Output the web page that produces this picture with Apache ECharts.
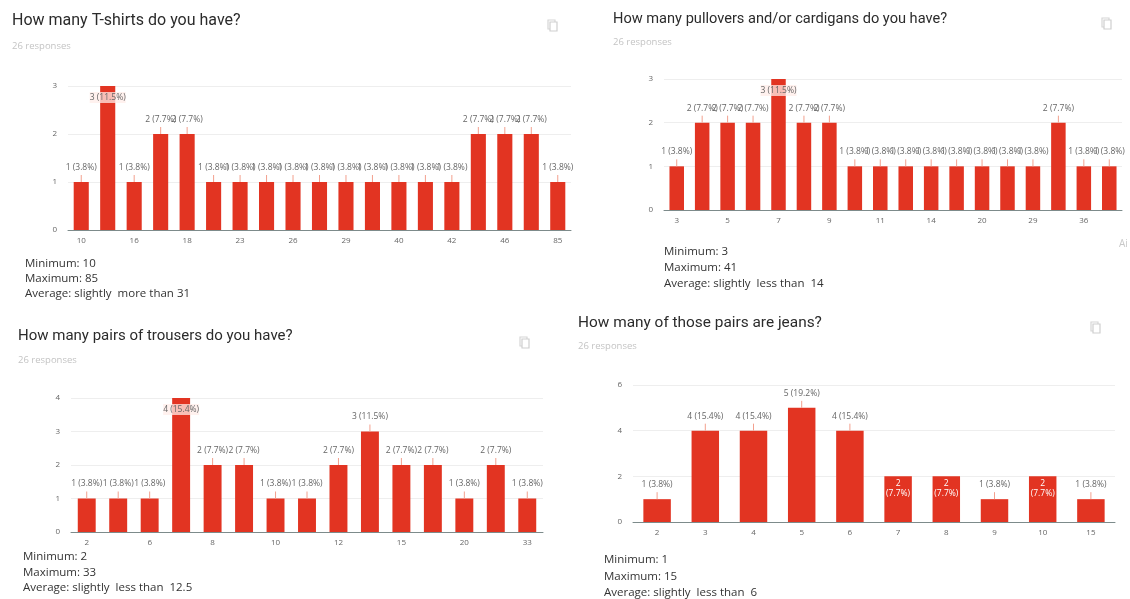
<!DOCTYPE html>
<html><head><meta charset="utf-8">
<script src="https://cdn.jsdelivr.net/npm/echarts@6/dist/echarts.min.js"></script>
<style>html,body{margin:0;padding:0;background:#fff}#c{width:1130px;height:599px}</style>
</head><body><div id="c"></div>
<script>
// ---- data ----
const tshirtTitle = 'How many T-shirts do you have?';
const tshirtCats = ['10','15','16','17','18','20','23','25','26','28','29','30','40','41','42','45','46','50','85'];
const tshirtVals = [1,3,1,2,2,1,1,1,1,1,1,1,1,1,1,2,2,2,1];
const tshirtStats = ['Minimum: 10','Maximum: 85','Average: slightly  more than 31'];

const pulloverTitle = 'How many pullovers and/or cardigans do you have?';
const pulloverCats = ['3','4','5','6','7','8','9','10','11','12','14','15','20','25','29','30','36','41'];
const pulloverVals = [1,2,2,2,3,2,2,1,1,1,1,1,1,1,1,2,1,1];
const pulloverStats = ['Minimum: 3','Maximum: 41','Average: slightly  less than  14'];

const trouserTitle = 'How many pairs of trousers do you have?';
const trouserCats = ['2','5','6','7','8','9','10','11','12','13','15','16','20','25','33'];
const trouserVals = [1,1,1,4,2,2,1,1,2,3,2,2,1,2,1];
const trouserStats = ['Minimum: 2','Maximum: 33','Average: slightly  less than  12.5'];

const jeansTitle = 'How many of those pairs are jeans?';
const jeansCats = ['2','3','4','5','6','7','8','9','10','15'];
const jeansVals = [1,4,4,5,4,2,2,1,2,1];
const jeansStats = ['Minimum: 1','Maximum: 15','Average: slightly  less than  6'];

const responsesText = '26 responses';

// ---- layout ----
const RED = '#e23422';
const panels = [
  {title: tshirtTitle, cats: tshirtCats, vals: tshirtVals, stats: tshirtStats, yMax: 3, yInt: 1, xInt: 1,
   grid: {left: 68, top: 86, width: 503, height: 144}, tx: 12, ty: 23, tf: 16, ry: 47, ix: 548, iy: 20, sx: 25, sy: 264, sd: 15, inside2: false},
  {title: pulloverTitle, cats: pulloverCats, vals: pulloverVals, stats: pulloverStats, yMax: 3, yInt: 1, xInt: 1,
   grid: {left: 664, top: 79, width: 458, height: 131}, tx: 613, ty: 21, tf: 14.6, ry: 43, ix: 1102, iy: 18, sx: 664, sy: 252, sd: 16, inside2: false},
  {title: trouserTitle, cats: trouserCats, vals: trouserVals, stats: trouserStats, yMax: 4, yInt: 1, xInt: 1,
   grid: {left: 71, top: 398, width: 472, height: 134}, tx: 18, ty: 338, tf: 15, ry: 361, ix: 520, iy: 337, sx: 23, sy: 557, sd: 15.5, inside2: false},
  {title: jeansTitle, cats: jeansCats, vals: jeansVals, stats: jeansStats, yMax: 6, yInt: 2, xInt: 0,
   grid: {left: 633, top: 385, width: 482, height: 137}, tx: 578, ty: 325, tf: 15.4, ry: 347, ix: 1091, iy: 322, sx: 604, sy: 560, sd: 16.5, inside2: true}
];

function pct(v, total){ return (v / total * 100).toFixed(1) + '%'; }

const grids = [], xAxes = [], yAxes = [], series = [], graphics = [];
panels.forEach((p, k) => {
  const total = p.vals.reduce((a, b) => a + b, 0);
  grids.push(Object.assign({containLabel: false}, p.grid));
  xAxes.push({type: 'category', gridIndex: k, data: p.cats,
    axisLine: {lineStyle: {color: '#7d8b8b', width: 1}}, axisTick: {show: false},
    axisLabel: {interval: p.xInt, color: '#666', fontSize: 8, margin: 7, fontFamily: 'Open Sans'}});
  yAxes.push({type: 'value', gridIndex: k, min: 0, max: p.yMax, interval: p.yInt,
    axisLine: {show: false}, axisTick: {show: false},
    splitLine: {lineStyle: {color: '#eeeeee', width: 1}},
    axisLabel: {color: '#666', fontSize: 8, margin: 11, fontFamily: 'Open Sans'}});
  const isInside = v => (v === p.yMax) || (p.inside2 && v === 2);
  const data = p.vals.map(v => {
    const item = {value: v};
    if (v === p.yMax) {
      item.label = {position: 'insideTop', distance: 6, color: '#666',
        backgroundColor: 'rgba(255,236,232,0.75)', padding: [1, 0]};
    } else if (p.inside2 && v === 2) {
      item.label = {position: 'insideTop', distance: 2, color: '#fff', lineHeight: 10,
        formatter: v + '\n(' + pct(v, total) + ')'};
    }
    return item;
  });
  series.push({type: 'bar', xAxisIndex: k, yAxisIndex: k, data: data, barCategoryGap: '43%',
    itemStyle: {color: RED},
    label: {show: true, position: 'top', distance: 10, color: '#666', fontSize: 8.5, fontFamily: 'Open Sans',
      formatter: prm => prm.value + ' (' + pct(prm.value, total) + ')'}});
  series.push({type: 'custom', xAxisIndex: k, yAxisIndex: k, silent: true, z: 3,
    data: p.vals.map((v, i) => [i, v]),
    renderItem: (params, api) => {
      const v = api.value(1);
      if (isInside(v)) return null;
      const pt = api.coord([api.value(0), v]);
      return {type: 'line', shape: {x1: pt[0], y1: pt[1], x2: pt[0], y2: pt[1] - 7},
        style: {stroke: '#f3a08e', lineWidth: 1}};
    }});
  graphics.push({type: 'text', left: p.tx, top: p.ty - p.tf * 0.6,
    style: {text: p.title, fill: '#2b2b2b', font: p.tf + 'px Roboto'}});
  graphics.push({type: 'text', left: p.tx, top: p.ry - 6,
    style: {text: responsesText, fill: '#c4c4c4', font: '9.5px "Open Sans"'}});
  graphics.push({type: 'rect', shape: {x: p.ix, y: p.iy, width: 7, height: 9},
    style: {fill: 'none', stroke: '#d6d6d6', lineWidth: 1.2}});
  graphics.push({type: 'rect', shape: {x: p.ix + 2, y: p.iy + 2, width: 7, height: 9},
    style: {fill: '#fff', stroke: '#cfcfcf', lineWidth: 1.2}});
  p.stats.forEach((s, j) => {
    graphics.push({type: 'text', left: p.sx, top: p.sy - 6 + j * p.sd,
      style: {text: s, fill: '#333', font: '11.5px "Open Sans"'}});
  });
});
graphics.push({type: 'text', left: 1119, top: 239, style: {text: 'Ai', fill: '#c8c8c8', font: '10px "Open Sans"'}});

const chart = echarts.init(document.getElementById('c'), null, {renderer: 'canvas'});
chart.setOption({animation: false, grid: grids, xAxis: xAxes, yAxis: yAxes, series: series, graphic: graphics});
</script>
</body></html>
